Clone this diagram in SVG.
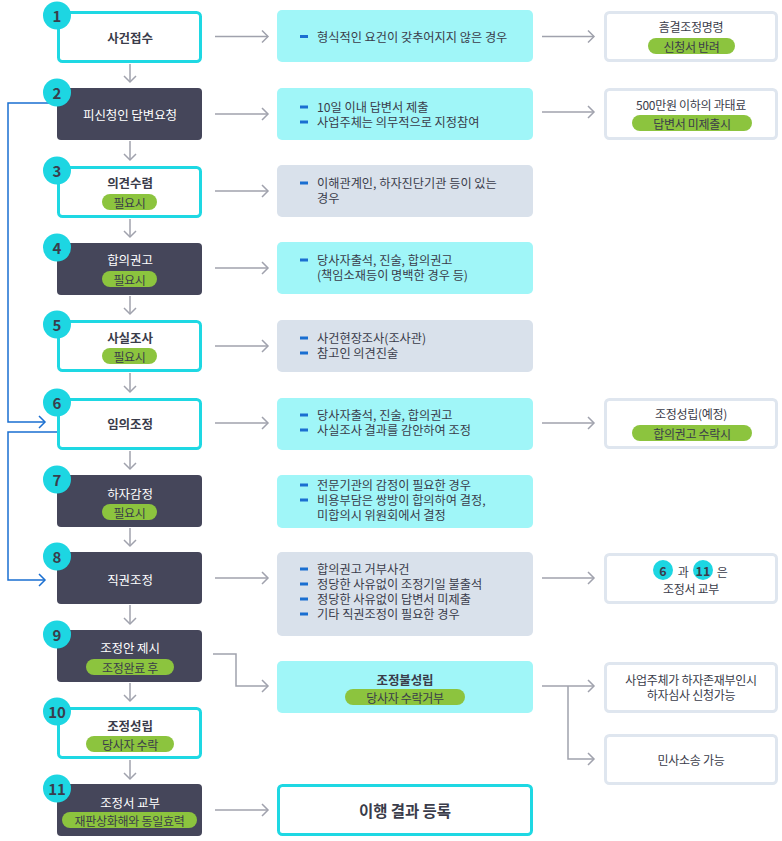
<svg xmlns="http://www.w3.org/2000/svg" width="782" height="841" viewBox="0 0 782 841">
<defs>
<style>
text{font-family:"Noto Sans CJK KR","Noto Sans",sans-serif;dominant-baseline:central;letter-spacing:-0.3px}
.cy{fill:#fff;stroke:#1ed8e3;stroke-width:3}
.dk{fill:#45465a}
.mc{fill:#a0f6f8}
.mg{fill:#d9e1eb}
.rb{fill:#fff;stroke:#dfe6ef;stroke-width:3}
.pill{fill:#8cc43e}
.num{fill:#1dd6e2}
.nt{font-size:15px;font-weight:700;fill:#3a3d4c;text-anchor:middle;letter-spacing:0}
.tb{font-size:12.5px;font-weight:700;fill:#3a3c4a;text-anchor:middle;letter-spacing:-0.1px}
.tw{font-size:12.5px;fill:#ffffff;text-anchor:middle;letter-spacing:-0.1px}
.pt{font-size:12px;fill:#3a3c4a;text-anchor:middle}
.mt{font-size:12.2px;fill:#3a3c4a;letter-spacing:0}
.rt{font-size:12px;fill:#3a3c4a;text-anchor:middle}
.bul{fill:#1a6fd1}
.g{fill:none;stroke:#a0a2ad;stroke-width:1.5}
.b{fill:none;stroke:#1a6fd1;stroke-width:1.5}
</style>
<marker id="ag" markerUnits="userSpaceOnUse" markerWidth="12" markerHeight="14" refX="8" refY="7" orient="auto">
<path d="M2,1 L8,7 L2,13" fill="none" stroke="#a0a2ad" stroke-width="1.5"/>
</marker>
<marker id="ab" markerUnits="userSpaceOnUse" markerWidth="12" markerHeight="14" refX="8" refY="7" orient="auto">
<path d="M2,1 L8,7 L2,13" fill="none" stroke="#1a6fd1" stroke-width="1.5"/>
</marker>
</defs>
<rect width="782" height="841" fill="#fff"/>

<g id="connectors">
<path class="g" marker-end="url(#ag)" d="M130,64 V82"/>
<path class="g" marker-end="url(#ag)" d="M130,141 V160"/>
<path class="g" marker-end="url(#ag)" d="M130,219 V237"/>
<path class="g" marker-end="url(#ag)" d="M130,296 V314"/>
<path class="g" marker-end="url(#ag)" d="M130,373 V392"/>
<path class="g" marker-end="url(#ag)" d="M130,451 V469"/>
<path class="g" marker-end="url(#ag)" d="M130,528 V546"/>
<path class="g" marker-end="url(#ag)" d="M130,605 V624"/>
<path class="g" marker-end="url(#ag)" d="M130,683 V701"/>
<path class="g" marker-end="url(#ag)" d="M130,760 V779"/>
<path class="g" marker-end="url(#ag)" d="M215,36.5 H268"/>
<path class="g" marker-end="url(#ag)" d="M215,114 H268"/>
<path class="g" marker-end="url(#ag)" d="M215,191 H268"/>
<path class="g" marker-end="url(#ag)" d="M215,268 H268"/>
<path class="g" marker-end="url(#ag)" d="M215,346 H268"/>
<path class="g" marker-end="url(#ag)" d="M215,423 H268"/>
<path class="g" marker-end="url(#ag)" d="M215,578 H268"/>
<path class="g" marker-end="url(#ag)" d="M213,654 H236 V686 H268"/>
<path class="g" marker-end="url(#ag)" d="M215,810 H268"/>
<path class="g" marker-end="url(#ag)" d="M542,36.5 H594"/>
<path class="g" marker-end="url(#ag)" d="M542,112 H594"/>
<path class="g" marker-end="url(#ag)" d="M542,423 H594"/>
<path class="g" marker-end="url(#ag)" d="M542,578 H594"/>
<path class="g" marker-end="url(#ag)" d="M542,686 H594"/>
<path class="g" marker-end="url(#ag)" d="M568,686 V759 H594"/>
<path class="b" marker-end="url(#ab)" d="M57,103 H8 V422 H45"/>
<path class="b" marker-end="url(#ab)" d="M57,432 H8 V580 H45"/>
</g>

<g id="n1">
<rect class="cy" x="58.5" y="12.5" width="142" height="49" rx="4"/>
<text class="tb" x="130" y="37">사건접수</text>
<circle class="num" cx="57" cy="15.5" r="14"/><text class="nt" x="57" y="15.5">1</text>
</g>
<g id="n2">
<rect class="dk" x="57" y="88" width="145" height="52" rx="4"/>
<text class="tw" x="130" y="114">피신청인 답변요청</text>
<circle class="num" cx="57" cy="92.5" r="14"/><text class="nt" x="57" y="92.5">2</text>
</g>
<g id="n3">
<rect class="cy" x="58.5" y="167.5" width="142" height="49" rx="4"/>
<text class="tb" x="130" y="182">의견수렴</text>
<rect class="pill" x="102" y="194" width="55" height="16" rx="8"/><text class="pt" x="129.5" y="202">필요시</text>
<circle class="num" cx="57" cy="170.5" r="14"/><text class="nt" x="57" y="170.5">3</text>
</g>
<g id="n4">
<rect class="dk" x="57" y="243" width="145" height="52" rx="4"/>
<text class="tw" x="130" y="259">합의권고</text>
<rect class="pill" x="102" y="271" width="55" height="16" rx="8"/><text class="pt" x="129.5" y="279">필요시</text>
<circle class="num" cx="57" cy="247.5" r="14"/><text class="nt" x="57" y="247.5">4</text>
</g>
<g id="n5">
<rect class="cy" x="58.5" y="321.5" width="142" height="49" rx="4"/>
<text class="tb" x="130" y="337">사실조사</text>
<rect class="pill" x="102" y="348" width="55" height="16" rx="8"/><text class="pt" x="129.5" y="356">필요시</text>
<circle class="num" cx="57" cy="324.5" r="14"/><text class="nt" x="57" y="324.5">5</text>
</g>
<g id="n6">
<rect class="cy" x="58.5" y="399.5" width="142" height="49" rx="4"/>
<text class="tb" x="130" y="423">임의조정</text>
<circle class="num" cx="57" cy="402.5" r="14"/><text class="nt" x="57" y="402.5">6</text>
</g>
<g id="n7">
<rect class="dk" x="57" y="475" width="145" height="52" rx="4"/>
<text class="tw" x="130" y="493">하자감정</text>
<rect class="pill" x="102" y="504" width="55" height="16" rx="8"/><text class="pt" x="129.5" y="512">필요시</text>
<circle class="num" cx="57" cy="479.5" r="14"/><text class="nt" x="57" y="479.5">7</text>
</g>
<g id="n8">
<rect class="dk" x="57" y="552" width="145" height="52" rx="4"/>
<text class="tw" x="130" y="579">직권조정</text>
<circle class="num" cx="57" cy="556.5" r="14"/><text class="nt" x="57" y="556.5">8</text>
</g>
<g id="n9">
<rect class="dk" x="57" y="630" width="145" height="52" rx="4"/>
<text class="tw" x="130" y="647">조정안 제시</text>
<rect class="pill" x="86" y="659" width="88" height="16" rx="8"/><text class="pt" x="130" y="667">조정완료 후</text>
<circle class="num" cx="57" cy="634.5" r="14"/><text class="nt" x="57" y="634.5">9</text>
</g>
<g id="n10">
<rect class="cy" x="58.5" y="708.5" width="142" height="49" rx="4"/>
<text class="tb" x="130" y="725">조정성립</text>
<rect class="pill" x="86" y="736" width="88" height="16" rx="8"/><text class="pt" x="130" y="744">당사자 수락</text>
<circle class="num" cx="57" cy="711.5" r="14"/><text class="nt" x="57" y="711.5">10</text>
</g>
<g id="n11">
<rect class="dk" x="57" y="784" width="145" height="52" rx="4"/>
<text class="tw" x="130" y="802">조정서 교부</text>
<rect class="pill" x="62" y="812" width="135" height="16" rx="8"/><text class="pt" x="129.5" y="820">재판상화해와 동일효력</text>
<circle class="num" cx="57" cy="788.5" r="14"/><text class="nt" x="57" y="788.5">11</text>
</g>

<g id="m1">
<rect class="mc" x="277" y="10" width="256" height="52" rx="5"/>
<rect class="bul" x="300" y="35" width="8" height="3"/>
<text class="mt" x="317" y="36.5">형식적인 요건이 갖추어지지 않은 경우</text>
</g>
<g id="m2">
<rect class="mc" x="277" y="88" width="256" height="52" rx="5"/>
<rect class="bul" x="300" y="105.5" width="8" height="3"/>
<rect class="bul" x="300" y="120.5" width="8" height="3"/>
<text class="mt" x="317" y="107"><tspan x="317" y="107">10일 이내 답변서 제출</tspan><tspan x="317" y="122">사업주체는 의무적으로 지정참여</tspan></text>
</g>
<g id="m3">
<rect class="mg" x="277" y="165" width="256" height="52" rx="5"/>
<rect class="bul" x="300" y="181.5" width="8" height="3"/>
<text class="mt" x="317" y="183"><tspan x="317" y="183">이해관계인, 하자진단기관 등이 있는</tspan><tspan x="317" y="198">경우</tspan></text>
</g>
<g id="m4">
<rect class="mc" x="277" y="242" width="256" height="52" rx="5"/>
<rect class="bul" x="300" y="258.5" width="8" height="3"/>
<text class="mt" x="317" y="260"><tspan x="317" y="260">당사자출석, 진술, 합의권고</tspan><tspan x="317" y="275">(책임소재등이 명백한 경우 등)</tspan></text>
</g>
<g id="m5">
<rect class="mg" x="277" y="320" width="256" height="52" rx="5"/>
<rect class="bul" x="300" y="336.5" width="8" height="3"/>
<rect class="bul" x="300" y="351.5" width="8" height="3"/>
<text class="mt" x="317" y="338"><tspan x="317" y="338">사건현장조사(조사관)</tspan><tspan x="317" y="353">참고인 의견진술</tspan></text>
</g>
<g id="m6">
<rect class="mc" x="277" y="398" width="256" height="52" rx="5"/>
<rect class="bul" x="300" y="413.5" width="8" height="3"/>
<rect class="bul" x="300" y="428.5" width="8" height="3"/>
<text class="mt" x="317" y="415"><tspan x="317" y="415">당사자출석, 진술, 합의권고</tspan><tspan x="317" y="430">사실조사 결과를 감안하여 조정</tspan></text>
</g>
<g id="m7">
<rect class="mc" x="277" y="475" width="256" height="53" rx="5"/>
<rect class="bul" x="300" y="483.5" width="8" height="3"/>
<rect class="bul" x="300" y="498.5" width="8" height="3"/>
<text class="mt" x="317" y="485"><tspan x="317" y="485">전문기관의 감정이 필요한 경우</tspan><tspan x="317" y="500">비용부담은 쌍방이 합의하여 결정,</tspan><tspan x="317" y="515">미합의시 위원회에서 결정</tspan></text>
</g>
<g id="m8">
<rect class="mg" x="277" y="552" width="256" height="84" rx="5"/>
<rect class="bul" x="300" y="567.5" width="8" height="3"/>
<rect class="bul" x="300" y="582.5" width="8" height="3"/>
<rect class="bul" x="300" y="597.5" width="8" height="3"/>
<rect class="bul" x="300" y="612.5" width="8" height="3"/>
<text class="mt" x="317" y="569"><tspan x="317" y="569">합의권고 거부사건</tspan><tspan x="317" y="584">정당한 사유없이 조정기일 불출석</tspan><tspan x="317" y="599">정당한 사유없이 답변서 미제출</tspan><tspan x="317" y="614">기타 직권조정이 필요한 경우</tspan></text>
</g>
<g id="m9">
<rect class="mc" x="277" y="661" width="256" height="52" rx="5"/>
<text class="tb" x="405" y="679">조정불성립</text>
<rect class="pill" x="345" y="689" width="120" height="16" rx="8"/><text class="pt" x="405" y="697">당사자 수락거부</text>
</g>
<g id="m11">
<rect class="cy" x="278.5" y="785.5" width="253" height="49" rx="4"/>
<text class="tb" style="font-size:15.5px" x="405" y="810">이행 결과 등록</text>
</g>

<g id="r1">
<rect class="rb" x="605.5" y="12.5" width="171" height="48" rx="4"/>
<text class="rt" x="691" y="26">흠결조정명령</text>
<rect class="pill" x="648" y="38" width="87" height="16" rx="8"/><text class="pt" x="691.5" y="46">신청서 반려</text>
</g>
<g id="r2">
<rect class="rb" x="605.5" y="89.5" width="171" height="49" rx="4"/>
<text class="rt" x="691" y="104">500만원 이하의 과태료</text>
<rect class="pill" x="632" y="115" width="120" height="16" rx="8"/><text class="pt" x="692" y="123">답변서 미제출시</text>
</g>
<g id="r6">
<rect class="rb" x="605.5" y="399.5" width="171" height="48" rx="4"/>
<text class="rt" x="691" y="413">조정성립(예정)</text>
<rect class="pill" x="632" y="425" width="120" height="16" rx="8"/><text class="pt" x="692" y="433">합의권고 수락시</text>
</g>
<g id="r8">
<rect class="rb" x="605.5" y="554.5" width="171" height="48" rx="4"/>
<circle class="num" cx="663" cy="570" r="10"/><text class="nt" style="font-size:12.5px" x="663" y="570">6</text>
<text class="rt" x="683" y="571">과</text>
<circle class="num" cx="703" cy="570" r="10"/><text class="nt" style="font-size:12.5px" x="703" y="570">11</text>
<text class="rt" x="722" y="571">은</text>
<text class="rt" x="691" y="588">조정서 교부</text>
</g>
<g id="r9a">
<rect class="rb" x="605.5" y="663.5" width="171" height="48" rx="4"/>
<text class="rt" x="691" y="679"><tspan x="691" y="679">사업주체가 하자존재부인시</tspan><tspan x="691" y="694">하자심사 신청가능</tspan></text>
</g>
<g id="r9b">
<rect class="rb" x="605.5" y="735.5" width="171" height="48" rx="4"/>
<text class="rt" x="691" y="759.5">민사소송 가능</text>
</g>
</svg>
